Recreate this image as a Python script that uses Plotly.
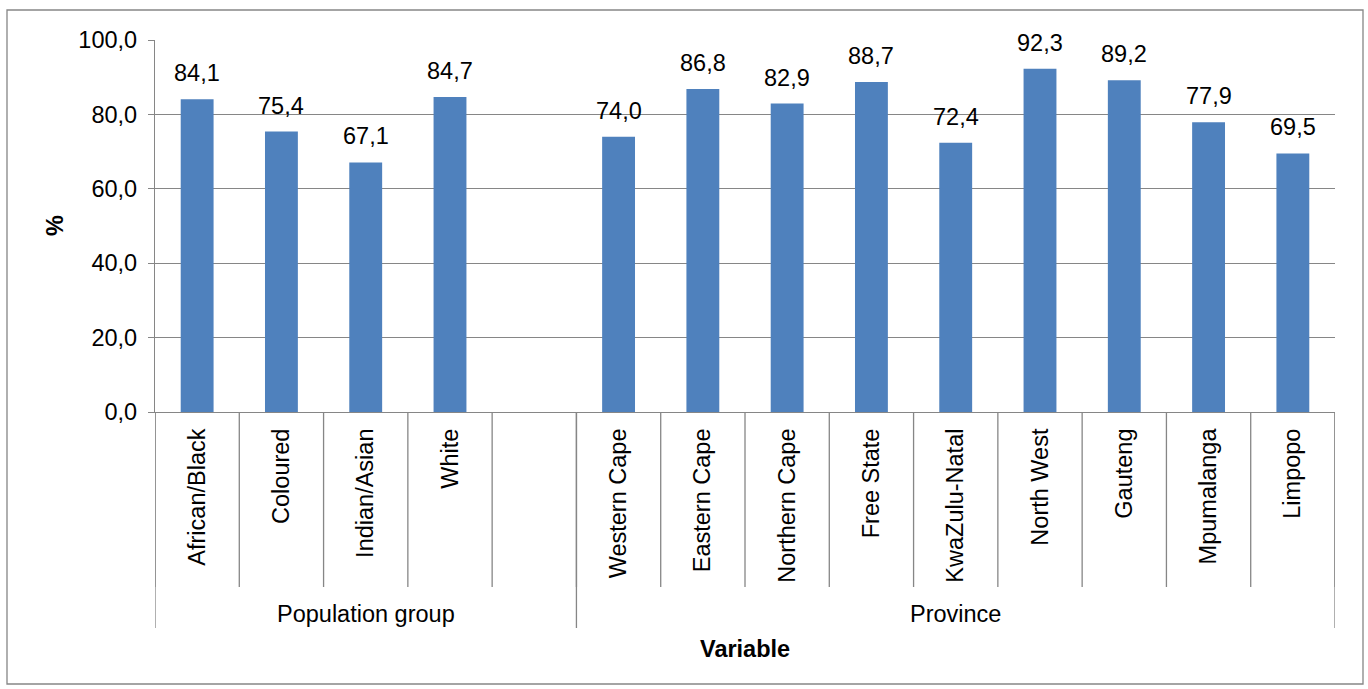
import plotly.graph_objects as go

# data
pop_groups = ["African/Black", "Coloured", "Indian/Asian", "White"]
pop_values = [84.1, 75.4, 67.1, 84.7]
provinces = ["Western Cape", "Eastern Cape", "Northern Cape", "Free State", "KwaZulu-Natal",
             "North West", "Gauteng", "Mpumalanga", "Limpopo"]
prov_values = [74.0, 86.8, 82.9, 88.7, 72.4, 92.3, 89.2, 77.9, 69.5]
group_names = ["Population group", "Province"]

categories = pop_groups + [" "] + provinces
values = pop_values + [None] + prov_values

FONT = "Liberation Sans, Arial, sans-serif"
FS = 23.5
GREY = "#868686"
BAR = "#4F81BD"

fig = go.Figure(go.Bar(x=categories, y=values, marker_color=BAR, marker_line_width=0,
                       hoverinfo="x+y"))

# value labels above bars
for c, v in zip(categories, values):
    if v is None:
        continue
    fig.add_annotation(x=c, y=v, text=f"{v:.1f}".replace(".", ","), showarrow=False,
                       yanchor="bottom", yshift=11, font=dict(size=FS, color="black", family=FONT))

# category dividers below the axis (excel-style multi level axis)
n = len(categories)
inner_len = -(587 - 412) / 372
outer_len = -(628 - 412) / 372
for k in range(n + 1):
    fig.add_shape(type="line", xref="x", yref="paper", x0=k - 0.5, x1=k - 0.5,
                  y0=0, y1=inner_len, line=dict(color=GREY, width=1.3))
split = len(pop_groups) + 1
for k in [0, split, n]:
    fig.add_shape(type="line", xref="x", yref="paper", x0=k - 0.5, x1=k - 0.5,
                  y0=0, y1=outer_len, line=dict(color=GREY, width=1.3))

# group labels
group_centers = [(-0.5 + split - 0.5) / 2, (split - 0.5 + n - 0.5) / 2]
for name, xc in zip(group_names, group_centers):
    fig.add_annotation(x=xc, xref="x", y=-(614 - 412) / 372, yref="paper", text=name,
                       xanchor="center", yanchor="middle", showarrow=False,
                       font=dict(size=FS, color="black", family=FONT))

fig.add_annotation(x=(n - 1) / 2, xref="x", y=-(649 - 412) / 372, yref="paper", text="<b>Variable</b>",
                   xanchor="center", yanchor="middle", showarrow=False,
                   font=dict(size=FS, color="black", family=FONT))
fig.add_annotation(x=(55 - 155) / 1180, xref="paper", y=(412 - 226) / 372, yref="paper", text="<b>%</b>",
                   xanchor="center", yanchor="middle", textangle=-90, showarrow=False,
                   font=dict(size=FS, color="black", family=FONT))

# outer chart border
fig.add_shape(type="rect", xref="paper", yref="paper",
              x0=(7 - 155) / 1180, x1=(1363 - 155) / 1180,
              y0=(412 - 684) / 372, y1=(412 - 10) / 372,
              line=dict(color=GREY, width=1.3))

fig.update_layout(
    width=1368, height=689,
    margin=dict(l=155, r=33, t=40, b=277),
    plot_bgcolor="white", paper_bgcolor="white",
    separators=", ",
    bargap=0.61,
    showlegend=False,
    font=dict(family=FONT, size=FS, color="black"),
    xaxis=dict(type="category", range=[-0.5, n - 0.5], tickangle=-90, ticks="",
               showline=True, linecolor=GREY, linewidth=1.3, showgrid=False,
               ticklabelstandoff=6, tickfont=dict(size=FS, color="black")),
    yaxis=dict(range=[0, 100], dtick=20, tickformat=".1f", ticks="outside", ticklen=6,
               tickcolor=GREY, showline=True, linecolor=GREY, linewidth=1.3,
               showgrid=True, gridcolor=GREY, gridwidth=1, zeroline=False,
               ticklabelstandoff=6, tickfont=dict(size=FS, color="black")),
)

fig.write_html("out.html", config={"displayModeBar": False},
               post_script="document.body.style.margin='0';")
